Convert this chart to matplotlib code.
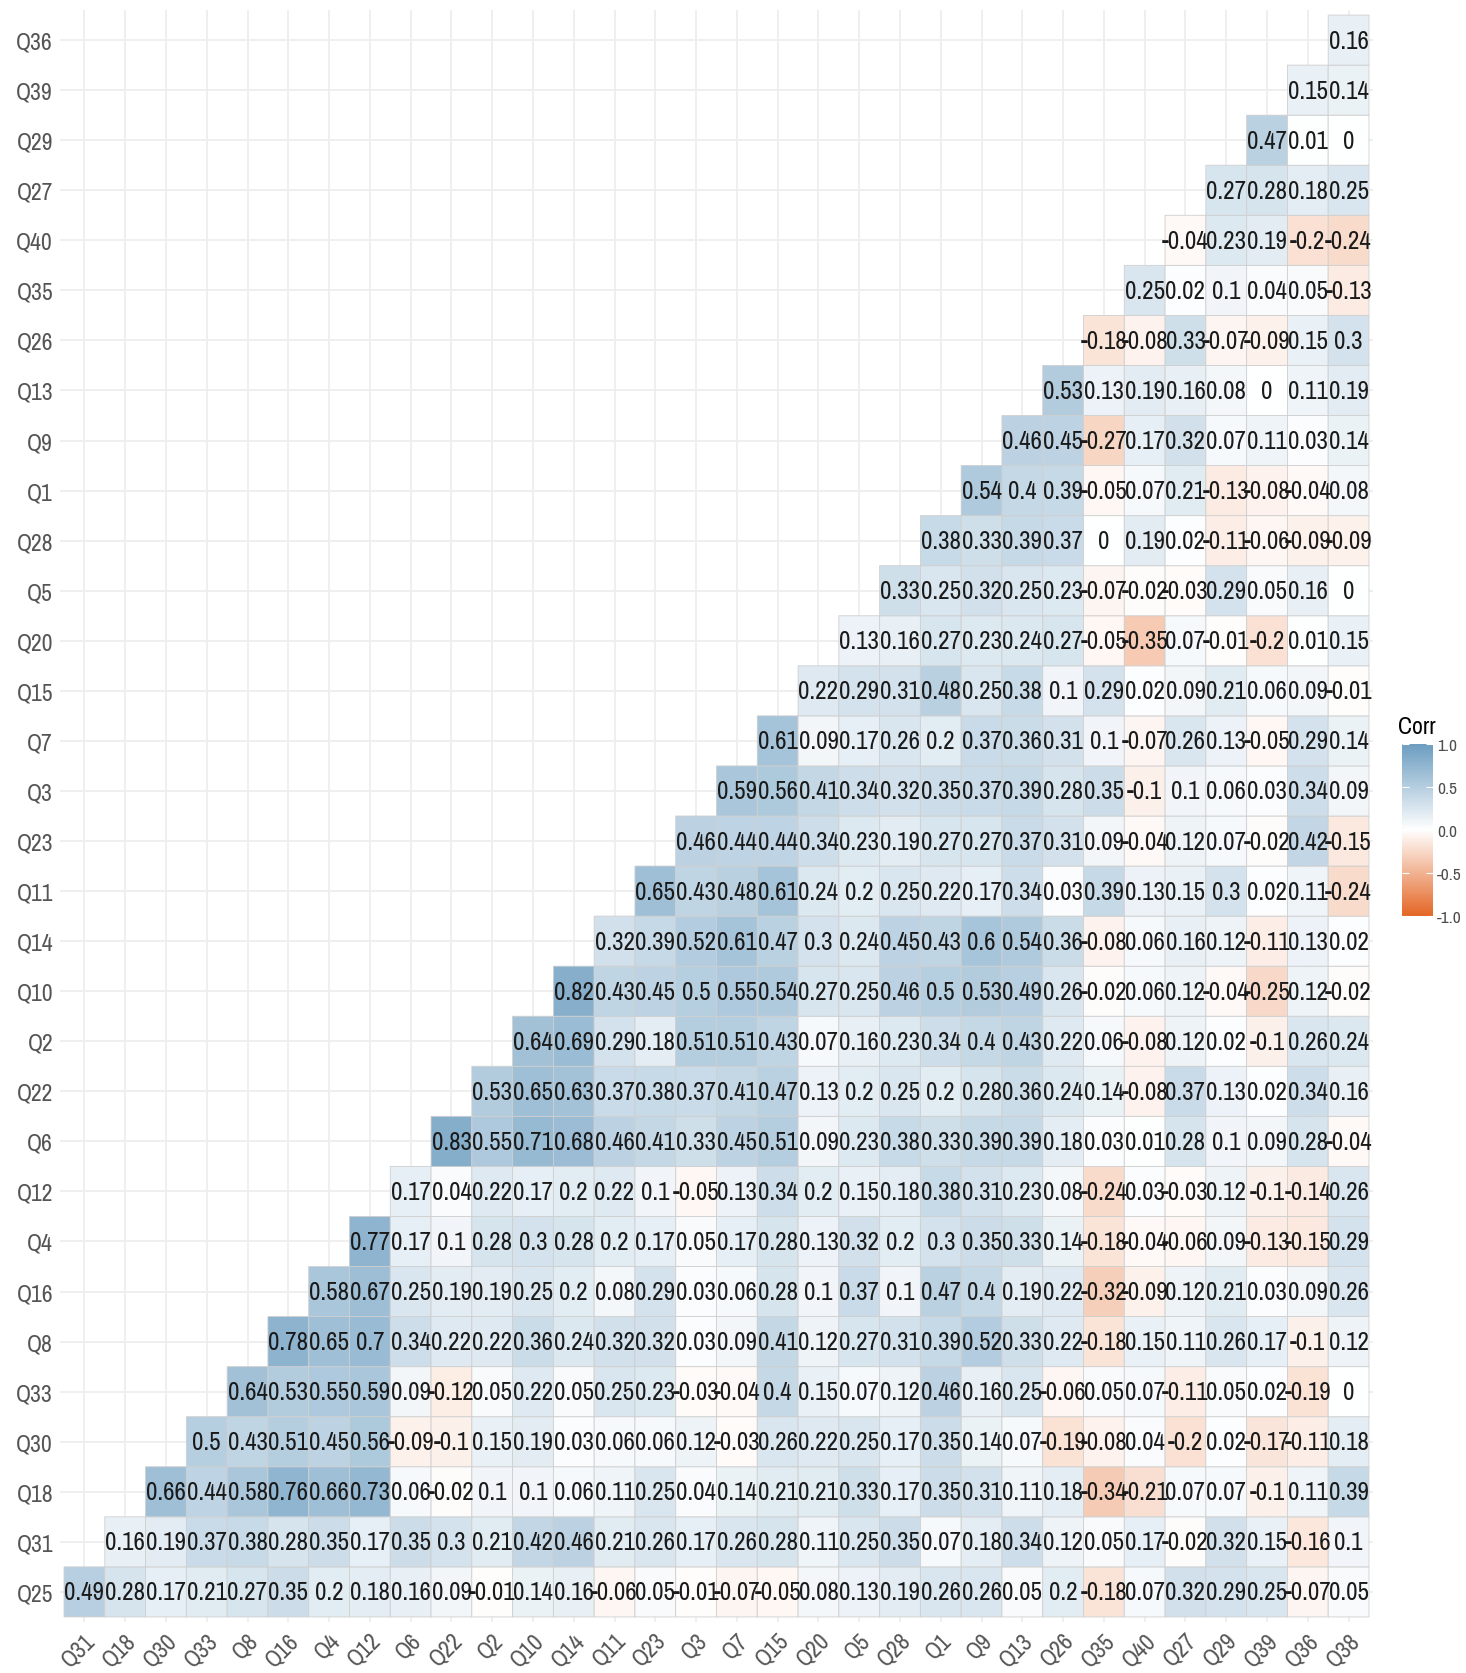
import numpy as np
import matplotlib
matplotlib.use("Agg")
import matplotlib.pyplot as plt
from matplotlib.colors import LinearSegmentedColormap

plt.rcParams["font.family"] = ["Archivo Narrow", "Liberation Sans", "DejaVu Sans"]

# variable order (hierarchical clustering order), bottom to top on the y axis
row_labels = ["Q25", "Q31", "Q18", "Q30", "Q33", "Q8", "Q16", "Q4", "Q12", "Q6",
              "Q22", "Q2", "Q10", "Q14", "Q11", "Q23", "Q3", "Q7", "Q15", "Q20",
              "Q5", "Q28", "Q1", "Q9", "Q13", "Q26", "Q35", "Q40", "Q27", "Q29",
              "Q39", "Q36"]
col_labels = ["Q31", "Q18", "Q30", "Q33", "Q8", "Q16", "Q4", "Q12", "Q6", "Q22",
              "Q2", "Q10", "Q14", "Q11", "Q23", "Q3", "Q7", "Q15", "Q20", "Q5",
              "Q28", "Q1", "Q9", "Q13", "Q26", "Q35", "Q40", "Q27", "Q29", "Q39",
              "Q36", "Q38"]

# lower triangle, one list per row (same order as row_labels), each row ends at Q38
tri_values = [
    [0.49, 0.28, 0.17, 0.21, 0.27, 0.35, 0.2, 0.18, 0.16, 0.09, -0.01, 0.14, 0.16, -0.06, 0.05, -0.01,
     -0.07, -0.05, 0.08, 0.13, 0.19, 0.26, 0.26, 0.05, 0.2, -0.18, 0.07, 0.32, 0.29, 0.25, -0.07, 0.05],
    [0.16, 0.19, 0.37, 0.38, 0.28, 0.35, 0.17, 0.35, 0.3, 0.21, 0.42, 0.46, 0.21, 0.26, 0.17, 0.26,
     0.28, 0.11, 0.25, 0.35, 0.07, 0.18, 0.34, 0.12, 0.05, 0.17, -0.02, 0.32, 0.15, -0.16, 0.1],
    [0.66, 0.44, 0.58, 0.76, 0.66, 0.73, 0.06, -0.02, 0.1, 0.1, 0.06, 0.11, 0.25, 0.04, 0.14, 0.21,
     0.21, 0.33, 0.17, 0.35, 0.31, 0.11, 0.18, -0.34, -0.21, 0.07, 0.07, -0.1, 0.11, 0.39],
    [0.5, 0.43, 0.51, 0.45, 0.56, -0.09, -0.1, 0.15, 0.19, 0.03, 0.06, 0.06, 0.12, -0.03, 0.26, 0.22,
     0.25, 0.17, 0.35, 0.14, 0.07, -0.19, -0.08, 0.04, -0.2, 0.02, -0.17, -0.11, 0.18],
    [0.64, 0.53, 0.55, 0.59, 0.09, -0.12, 0.05, 0.22, 0.05, 0.25, 0.23, -0.03, -0.04, 0.4, 0.15, 0.07,
     0.12, 0.46, 0.16, 0.25, -0.06, 0.05, 0.07, -0.11, 0.05, 0.02, -0.19, 0],
    [0.78, 0.65, 0.7, 0.34, 0.22, 0.22, 0.36, 0.24, 0.32, 0.32, 0.03, 0.09, 0.41, 0.12, 0.27, 0.31,
     0.39, 0.52, 0.33, 0.22, -0.18, 0.15, 0.11, 0.26, 0.17, -0.1, 0.12],
    [0.58, 0.67, 0.25, 0.19, 0.19, 0.25, 0.2, 0.08, 0.29, 0.03, 0.06, 0.28, 0.1, 0.37, 0.1, 0.47,
     0.4, 0.19, 0.22, -0.32, -0.09, 0.12, 0.21, 0.03, 0.09, 0.26],
    [0.77, 0.17, 0.1, 0.28, 0.3, 0.28, 0.2, 0.17, 0.05, 0.17, 0.28, 0.13, 0.32, 0.2, 0.3, 0.35,
     0.33, 0.14, -0.18, -0.04, -0.06, 0.09, -0.13, -0.15, 0.29],
    [0.17, 0.04, 0.22, 0.17, 0.2, 0.22, 0.1, -0.05, 0.13, 0.34, 0.2, 0.15, 0.18, 0.38, 0.31, 0.23,
     0.08, -0.24, 0.03, -0.03, 0.12, -0.1, -0.14, 0.26],
    [0.83, 0.55, 0.71, 0.68, 0.46, 0.41, 0.33, 0.45, 0.51, 0.09, 0.23, 0.38, 0.33, 0.39, 0.39, 0.18,
     0.03, 0.01, 0.28, 0.1, 0.09, 0.28, -0.04],
    [0.53, 0.65, 0.63, 0.37, 0.38, 0.37, 0.41, 0.47, 0.13, 0.2, 0.25, 0.2, 0.28, 0.36, 0.24, 0.14,
     -0.08, 0.37, 0.13, 0.02, 0.34, 0.16],
    [0.64, 0.69, 0.29, 0.18, 0.51, 0.51, 0.43, 0.07, 0.16, 0.23, 0.34, 0.4, 0.43, 0.22, 0.06, -0.08,
     0.12, 0.02, -0.1, 0.26, 0.24],
    [0.82, 0.43, 0.45, 0.5, 0.55, 0.54, 0.27, 0.25, 0.46, 0.5, 0.53, 0.49, 0.26, -0.02, 0.06, 0.12,
     -0.04, -0.25, 0.12, -0.02],
    [0.32, 0.39, 0.52, 0.61, 0.47, 0.3, 0.24, 0.45, 0.43, 0.6, 0.54, 0.36, -0.08, 0.06, 0.16, 0.12,
     -0.11, 0.13, 0.02],
    [0.65, 0.43, 0.48, 0.61, 0.24, 0.2, 0.25, 0.22, 0.17, 0.34, 0.03, 0.39, 0.13, 0.15, 0.3, 0.02,
     0.11, -0.24],
    [0.46, 0.44, 0.44, 0.34, 0.23, 0.19, 0.27, 0.27, 0.37, 0.31, 0.09, -0.04, 0.12, 0.07, -0.02, 0.42,
     -0.15],
    [0.59, 0.56, 0.41, 0.34, 0.32, 0.35, 0.37, 0.39, 0.28, 0.35, -0.1, 0.1, 0.06, 0.03, 0.34, 0.09],
    [0.61, 0.09, 0.17, 0.26, 0.2, 0.37, 0.36, 0.31, 0.1, -0.07, 0.26, 0.13, -0.05, 0.29, 0.14],
    [0.22, 0.29, 0.31, 0.48, 0.25, 0.38, 0.1, 0.29, 0.02, 0.09, 0.21, 0.06, 0.09, -0.01],
    [0.13, 0.16, 0.27, 0.23, 0.24, 0.27, -0.05, -0.35, 0.07, -0.01, -0.2, 0.01, 0.15],
    [0.33, 0.25, 0.32, 0.25, 0.23, -0.07, -0.02, -0.03, 0.29, 0.05, 0.16, 0],
    [0.38, 0.33, 0.39, 0.37, 0, 0.19, 0.02, -0.11, -0.06, -0.09, -0.09],
    [0.54, 0.4, 0.39, -0.05, 0.07, 0.21, -0.13, -0.08, -0.04, 0.08],
    [0.46, 0.45, -0.27, 0.17, 0.32, 0.07, 0.11, 0.03, 0.14],
    [0.53, 0.13, 0.19, 0.16, 0.08, 0, 0.11, 0.19],
    [-0.18, -0.08, 0.33, -0.07, -0.09, 0.15, 0.3],
    [0.25, 0.02, 0.1, 0.04, 0.05, -0.13],
    [-0.04, 0.23, 0.19, -0.2, -0.24],
    [0.27, 0.28, 0.18, 0.25],
    [0.47, 0.01, 0],
    [0.15, 0.14],
    [0.16],
]

n = len(col_labels)
corr = np.full((n, n), np.nan)
for i, row in enumerate(tri_values):
    corr[i, i:] = row
corr = np.ma.masked_invalid(corr)

cmap = LinearSegmentedColormap.from_list("corr", ["#E46726", "white", "#6D9EC1"])


def fmt(v):
    s = f"{v:.2f}".rstrip("0").rstrip(".")
    return "0" if s in ("-0", "") else s


fig = plt.figure(figsize=(14.66, 16.74), dpi=100)
ax = fig.add_axes([0.0409, 0.0305, 0.8957, 0.9629])

# background grid like theme_minimal
for k in range(n):
    ax.axvline(k, color="#EEEEEE", lw=1.3, zorder=0)
    ax.axhline(k, color="#EEEEEE", lw=1.3, zorder=0)

edges = np.arange(n + 1) - 0.5
mesh = ax.pcolor(edges, edges, corr, cmap=cmap, vmin=-1, vmax=1,
                 edgecolors="#CFCFCF", linewidth=0.6, zorder=1)

for i in range(n):
    for j in range(i, n):
        ax.text(j, i, fmt(corr[i, j]), ha="center", va="center",
                fontsize=18, color="#1A1A1A", zorder=2)

ax.set_xlim(-0.6, n - 0.4)
ax.set_ylim(-0.6, n - 0.4)
ax.set_xticks(range(n))
ax.set_yticks(range(n))
ax.set_xticklabels(col_labels, rotation=45, ha="right", va="top",
                   rotation_mode="anchor")
ax.set_yticklabels(row_labels)
ax.tick_params(length=0, labelsize=17, labelcolor="#555555")
ax.tick_params(axis="y", pad=5)
ax.tick_params(axis="x", pad=5)
for sp in ax.spines.values():
    sp.set_visible(False)

# legend bar
cax = fig.add_axes([1402 / 1466, 1 - 917 / 1674, 31 / 1466, 172 / 1674])
grad = np.linspace(-1, 1, 300)[:, None]
cax.imshow(grad, cmap=cmap, vmin=-1, vmax=1, aspect="auto", origin="lower",
           extent=[0, 1, -1, 1])
cax.set_xlim(0, 1)
cax.set_ylim(-1, 1)
cax.set_xticks([])
cax.set_yticks([-1, -0.5, 0, 0.5, 1])
cax.set_yticklabels(["-1.0", "-0.5", "0.0", "0.5", "1.0"])
cax.tick_params(axis="y", left=True, right=True, labelleft=False, labelright=True,
                direction="in", length=5, width=0.8, color="white",
                labelsize=12.5, labelcolor="#4D4D4D", pad=3)
for sp in cax.spines.values():
    sp.set_visible(False)
cax.set_title("Corr", fontsize=17, loc="left", pad=8, x=-0.12)

fig.savefig("out.png", dpi=100, facecolor="white")
